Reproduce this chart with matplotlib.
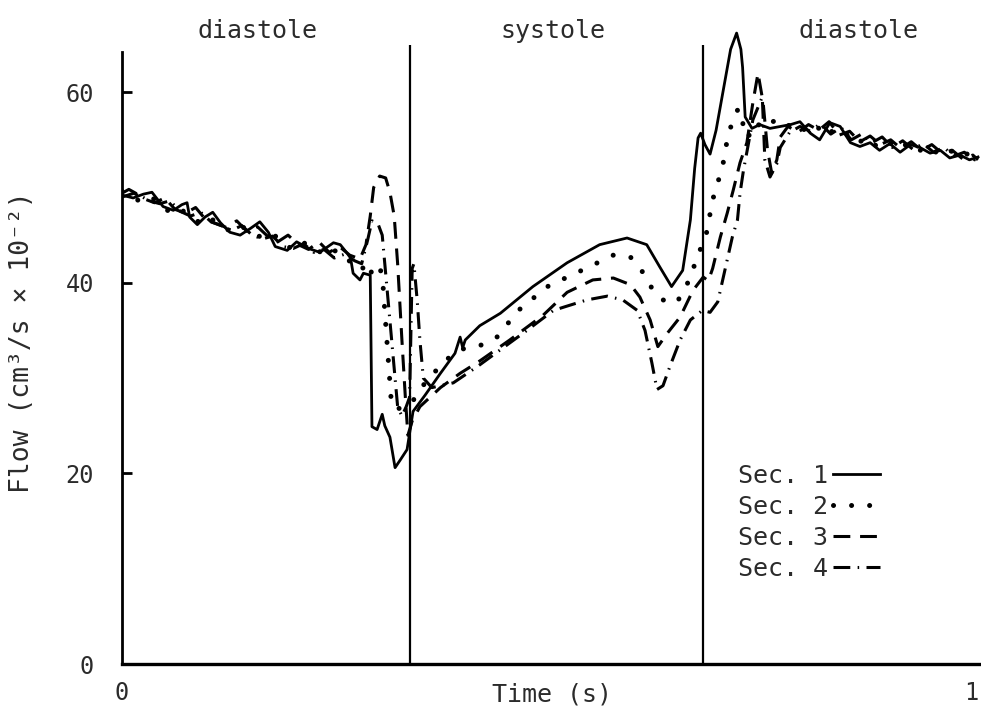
import matplotlib
matplotlib.use("Agg")
import matplotlib.pyplot as plt

# Flow (cm^3/s x 10^-2) through one cardiac cycle, four sections
t_sec1 = [0.000, 0.013, 0.025, 0.035, 0.048, 0.060, 0.070, 0.076, 0.079, 0.088,
          0.097, 0.106, 0.115, 0.126, 0.138, 0.150, 0.161, 0.171, 0.179, 0.193,
          0.204, 0.218, 0.231, 0.247, 0.255, 0.263, 0.267, 0.270, 0.278, 0.282,
          0.290, 0.292, 0.298, 0.304, 0.307, 0.313, 0.319, 0.325, 0.333, 0.340,
          0.354, 0.372, 0.389, 0.395, 0.398, 0.401, 0.418, 0.442, 0.480, 0.520,
          0.558, 0.590, 0.613, 0.628, 0.642, 0.655, 0.664, 0.669, 0.673, 0.676,
          0.681, 0.687, 0.694, 0.704, 0.711, 0.718, 0.723, 0.725, 0.728, 0.736,
          0.745, 0.757, 0.769, 0.781, 0.792, 0.804, 0.815, 0.827, 0.839, 0.851,
          0.862, 0.874, 0.885, 0.897, 0.909, 0.921, 0.932, 0.944, 0.956, 0.967,
          0.979, 0.990, 1.000]
flow_sec1 = [49.2, 48.9, 49.3, 49.5, 48.0, 47.6, 48.2, 48.4, 46.9, 46.1,
             46.9, 47.4, 46.3, 45.3, 45.0, 45.7, 46.4, 45.3, 43.8, 43.4,
             44.3, 43.6, 43.2, 44.2, 44.0, 43.1, 42.6, 41.0, 40.3, 41.0,
             40.8, 24.9, 24.6, 26.2, 25.0, 23.8, 20.6, 21.4, 22.5, 26.5,
             28.2, 30.5, 32.6, 34.3, 33.2, 34.0, 35.5, 36.8, 39.6, 42.1,
             44.0, 44.7, 44.0, 41.7, 39.6, 41.3, 46.6, 52.0, 55.2, 55.7,
             54.5, 53.5, 56.0, 61.0, 64.5, 66.2, 64.5, 62.6, 57.4, 56.2,
             56.6, 56.2, 56.4, 56.6, 56.9, 55.7, 55.0, 56.8, 56.4, 54.7,
             54.3, 54.7, 53.9, 54.6, 53.7, 54.5, 54.2, 53.6, 53.9, 53.1,
             53.4, 52.9, 53.2]

t_sec2 = [0.000, 0.010, 0.022, 0.034, 0.046, 0.058, 0.070, 0.082, 0.094, 0.106,
          0.118, 0.130, 0.142, 0.154, 0.166, 0.178, 0.190, 0.202, 0.214, 0.226,
          0.238, 0.250, 0.262, 0.274, 0.279, 0.287, 0.297, 0.304, 0.307, 0.311,
          0.315, 0.322, 0.331, 0.339, 0.354, 0.377, 0.395, 0.418, 0.438, 0.463,
          0.497, 0.518, 0.537, 0.574, 0.594, 0.613, 0.620, 0.632, 0.648, 0.660,
          0.669, 0.683, 0.690, 0.696, 0.702, 0.708, 0.714, 0.720, 0.726, 0.731,
          0.740, 0.750, 0.762, 0.774, 0.786, 0.798, 0.810, 0.822, 0.834, 0.846,
          0.858, 0.870, 0.882, 0.894, 0.906, 0.918, 0.930, 0.942, 0.954, 0.966,
          0.978, 0.990, 1.000]
flow_sec2 = [49.6, 49.1, 48.5, 49.0, 48.2, 47.2, 47.6, 47.0, 46.0, 46.6,
             45.9, 45.2, 45.8, 45.2, 44.6, 45.0, 44.0, 43.4, 44.2, 43.6,
             42.8, 43.4, 42.5, 41.8, 42.0, 40.5, 42.0, 41.0, 37.0, 32.0,
             27.0, 26.8, 26.9, 27.5, 29.5, 31.8, 33.0, 33.4, 34.3, 37.1,
             39.6, 40.5, 41.3, 42.9, 42.7, 40.6, 39.2, 38.2, 37.9, 39.8,
             41.9, 45.3, 48.7, 50.5, 52.4, 55.5, 57.1, 58.3, 56.5, 55.2,
             56.8, 56.2, 57.0, 56.3, 56.8, 56.0, 56.6, 55.4, 56.2, 55.6,
             54.6, 55.2, 54.3, 54.9, 54.0, 54.6, 53.8, 54.3, 53.5, 54.0,
             53.2, 53.6, 53.0]

t_sec3 = [0.000, 0.014, 0.026, 0.038, 0.050, 0.062, 0.074, 0.086, 0.098, 0.110,
          0.122, 0.134, 0.146, 0.158, 0.170, 0.182, 0.194, 0.206, 0.218, 0.230,
          0.242, 0.254, 0.266, 0.278, 0.285, 0.290, 0.294, 0.301, 0.308, 0.313,
          0.318, 0.322, 0.327, 0.331, 0.334, 0.339, 0.348, 0.372, 0.395, 0.418,
          0.453, 0.492, 0.520, 0.550, 0.574, 0.594, 0.605, 0.617, 0.626, 0.637,
          0.652, 0.667, 0.679, 0.685, 0.690, 0.699, 0.707, 0.714, 0.722, 0.730,
          0.737, 0.743, 0.749, 0.754, 0.759, 0.765, 0.769, 0.778, 0.790, 0.802,
          0.814, 0.826, 0.838, 0.850, 0.862, 0.874, 0.886, 0.898, 0.910, 0.922,
          0.934, 0.946, 0.958, 0.970, 0.982, 0.994, 1.000]
flow_sec3 = [49.0, 49.4, 48.8, 48.4, 48.9, 47.7, 47.3, 47.9, 46.6, 46.2,
             45.8, 46.5, 45.4, 45.9, 44.9, 44.3, 45.0, 44.0, 43.5, 44.3,
             43.2, 43.8, 42.9, 42.5, 44.0, 47.0, 50.0, 51.2, 51.0, 49.5,
             47.0, 42.0, 34.0, 28.0, 24.0, 25.5, 27.0, 29.0, 30.5, 31.8,
             34.0, 36.6, 39.0, 40.3, 40.5, 39.8, 38.5, 36.1, 33.3, 34.7,
             36.4, 39.2, 40.6, 40.2, 41.5, 44.8, 47.3, 49.7, 52.6, 54.7,
             58.9, 62.0, 58.9, 54.0, 51.5, 52.9, 55.3, 56.4, 55.8, 56.6,
             56.0, 56.9, 55.5, 55.9, 54.8, 55.4, 54.5, 55.0, 54.1, 54.8,
             53.9, 54.5, 53.6, 53.9, 53.0, 53.4, 52.9]

t_sec4 = [0.000, 0.008, 0.020, 0.032, 0.044, 0.056, 0.068, 0.080, 0.092, 0.104,
          0.116, 0.128, 0.140, 0.152, 0.164, 0.176, 0.188, 0.200, 0.212, 0.224,
          0.236, 0.248, 0.260, 0.272, 0.280, 0.287, 0.292, 0.299, 0.304, 0.308,
          0.313, 0.318, 0.322, 0.327, 0.332, 0.336, 0.339, 0.341, 0.345, 0.348,
          0.352, 0.362, 0.387, 0.415, 0.473, 0.504, 0.518, 0.543, 0.567, 0.585,
          0.602, 0.611, 0.619, 0.625, 0.632, 0.640, 0.652, 0.664, 0.678, 0.687,
          0.696, 0.707, 0.713, 0.719, 0.722, 0.726, 0.737, 0.748, 0.751, 0.757,
          0.765, 0.769, 0.780, 0.792, 0.804, 0.816, 0.828, 0.840, 0.852, 0.864,
          0.876, 0.888, 0.900, 0.912, 0.924, 0.936, 0.948, 0.960, 0.972, 0.984,
          0.996, 1.000]
flow_sec4 = [49.4, 49.8, 49.2, 48.6, 48.3, 48.6, 47.5, 47.0, 47.4, 46.4,
             46.0, 45.5, 46.0, 45.0, 44.6, 44.9, 43.8, 43.6, 44.1, 43.2,
             43.5, 42.6, 43.0, 42.3, 42.0, 44.5, 46.5, 46.2, 45.0, 41.0,
             36.0, 31.0, 27.0, 26.0, 27.0, 28.0, 41.5, 42.0, 38.0, 34.0,
             30.0, 29.0, 29.5, 31.2, 35.0, 37.1, 37.5, 38.2, 38.6, 38.2,
             37.1, 35.0, 31.6, 28.8, 29.2, 31.2, 34.0, 36.1, 37.1, 36.9,
             38.0, 42.4, 44.8, 46.6, 49.4, 51.8, 57.1, 59.5, 52.9, 51.1,
             52.5, 54.2, 55.8, 56.4, 55.9, 56.7, 55.6, 56.3, 55.0, 55.6,
             54.7, 55.3, 54.2, 54.9, 54.0, 54.6, 53.7, 54.2, 53.3, 53.7,
             52.9, 53.1]

section_labels = ["Sec. 1", "Sec. 2", "Sec. 3", "Sec. 4"]
phase_bounds = [0.337, 0.679]
phase_names = ["diastole", "systole", "diastole"]
phase_label_x = [0.158, 0.503, 0.860]

MONO = "DejaVu Sans Mono"
INK = "#2b2b2b"

fig = plt.figure(figsize=(9.81, 7.13), dpi=100)
ax = fig.add_axes([122 / 981, 49 / 713, 859 / 981, 643.3 / 713])

ax.plot(t_sec1, flow_sec1, color="black", lw=2.0, solid_joinstyle="round",
        label=section_labels[0])
ax.plot(t_sec2, flow_sec2, color="black", lw=3.6, linestyle=(0, (0.01, 3.6)),
        dash_capstyle="round", label=section_labels[1])
ax.plot(t_sec3, flow_sec3, color="black", lw=2.2, linestyle=(0, (5.5, 3.2)),
        label=section_labels[2])
ax.plot(t_sec4, flow_sec4, color="black", lw=2.2,
        linestyle=(0, (5.5, 2.4, 0.5, 2.4)), label=section_labels[3])

# phase boundaries
ax.vlines(phase_bounds, 0, 65.0, color="black", lw=1.6)

for name, xpos in zip(phase_names, phase_label_x):
    ax.text(xpos, 66.4, name, ha="center", va="center", fontsize=18,
            family=MONO, color=INK)

ax.set_xlim(0, 1.0035)
ax.set_ylim(0, 67.5)
for side in ("top", "right"):
    ax.spines[side].set_visible(False)
ax.spines["left"].set_bounds(0, 64.2)
ax.spines["left"].set_linewidth(2.0)
ax.spines["bottom"].set_linewidth(2.4)

ax.set_yticks([0, 20, 40, 60])
ax.set_yticklabels(["0", "20", "40", "60"])
ax.set_xticks([0, 1])
ax.set_xticklabels(["0", "1"])
ax.tick_params(axis="y", direction="in", length=7, width=2.0, pad=20,
               labelsize=17, labelcolor=INK)
ax.tick_params(axis="x", length=0, pad=12, labelsize=17, labelcolor=INK)
for lbl in ax.get_xticklabels() + ax.get_yticklabels():
    lbl.set_family(MONO)
ax.get_xticklabels()[-1].set_horizontalalignment("right")

ax.set_xlabel("Time (s)", fontsize=18, family=MONO, color=INK, labelpad=-16)
ax.set_ylabel("Flow (cm³/s × 10⁻²)", fontsize=19, family=MONO, color=INK,
              labelpad=22)

leg = ax.legend(loc="upper left", bbox_to_anchor=(0.702, 0.33), frameon=False,
                markerfirst=False, handlelength=1.9, handletextpad=0.2,
                labelspacing=0.28, borderpad=0,
                prop={"family": MONO, "size": 18})
for txt in leg.get_texts():
    txt.set_color(INK)

fig.savefig("out.png", dpi=100)
